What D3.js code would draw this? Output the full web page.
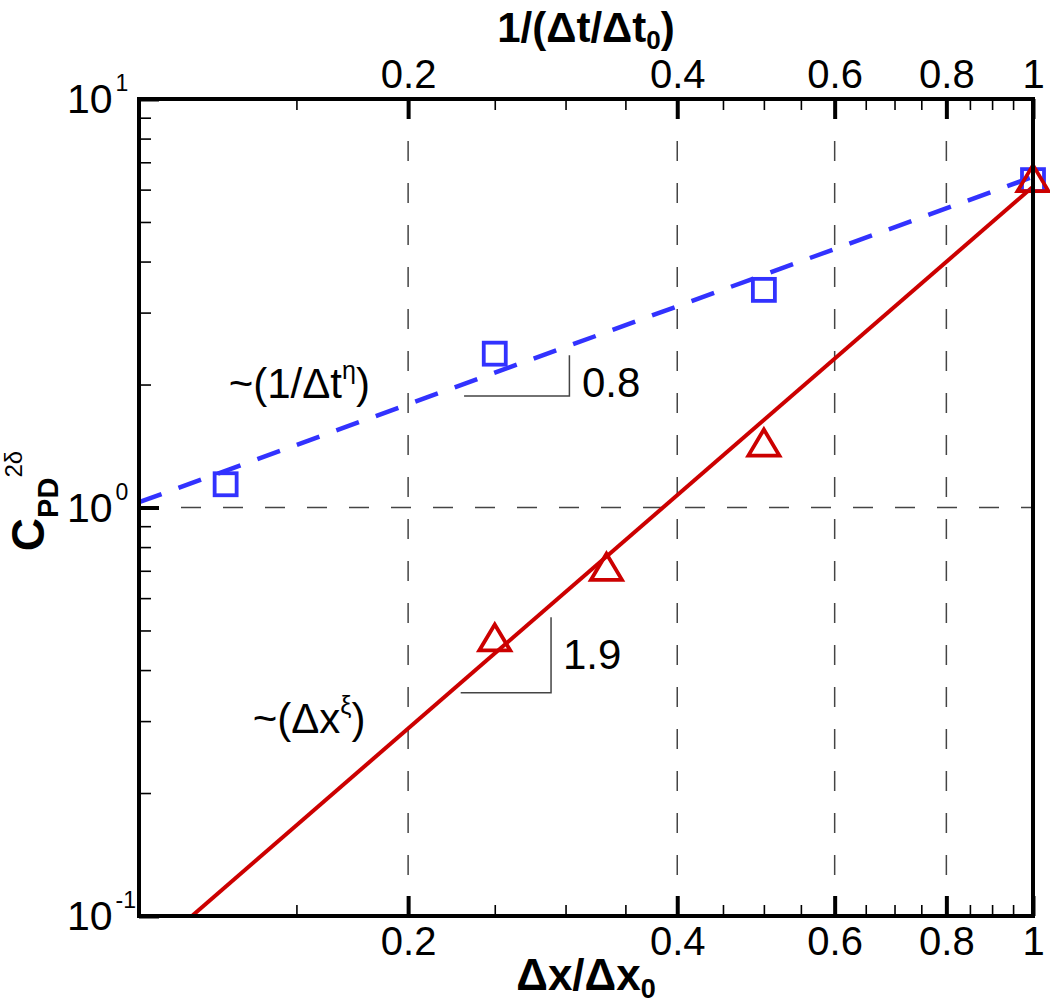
<!DOCTYPE html>
<html>
<head>
<meta charset="utf-8">
<script src="https://cdn.jsdelivr.net/npm/d3@7"></script>
<style>
  body { margin: 0; background: #fff; }
  text { font-family: "Liberation Sans", Arial, Helvetica, sans-serif; }
</style>
</head>
<body>
<div id="chart"></div>
<script>
// ---- data ----
const xMajorTicks = [0.2, 0.4, 0.6, 0.8, 1];
const xMinorTicks = [0.15, 0.25, 0.3, 0.35, 0.45, 0.5, 0.55, 0.65, 0.7, 0.75, 0.85, 0.9, 0.95];
const yMajorTicks = [0.1, 1, 10];
const yMajorExponents = ["-1", "0", "1"];
const yMinorTicks = [0.2, 0.3, 0.4, 0.5, 0.6, 0.7, 0.8, 0.9, 2, 3, 4, 5, 6, 7, 8, 9];
const gridX = [0.2, 0.4, 0.6, 0.8];
const gridY = [1];

// blue squares: time step refinement
const squareX = [0.125, 0.25, 0.5, 1];
const squareY = [1.14, 2.38, 3.41, 6.33];
// red triangles: grid refinement
const triangleX = [0.25, 1 / 3, 0.5, 1];
const triangleY = [0.47, 0.70, 1.41, 6.26];

// fitted power laws (end points)
const dtFitX = [0.1, 1];
const dtFitY = [1.03, 6.45];
const dxFitX = [0.1146, 1];
const dxFitY = [0.1, 6.1];

// slope triangles [x0, x1], [yBottom, yTop]
const dtSlopeX = [0.231, 0.303];
const dtSlopeY = [1.875, 2.36];
const dxSlopeX = [0.229, 0.289];
const dxSlopeY = [0.352, 0.539];

// annotations [x, y] in data space
const dtNote = [0.126, 1.85];
const dtSlopeLabel = [0.313, 1.86];
const dxNote = [0.134, 0.28];
const dxSlopeLabel = [0.298, 0.403];

const width = 1050;
const height = 1007;
const margin = { top: 99, right: 17, bottom: 91, left: 139 };
const blue = "#3232ff";
const red = "#cc0000";

const svg = d3.select("#chart")
    .append("svg")
    .attr("width", width)
    .attr("height", height);

const x = d3.scaleLog()
    .domain([0.1, 1])
    .range([margin.left, width - margin.right]);

const y = d3.scaleLog()
    .domain([0.1, 10])
    .range([height - margin.bottom, margin.top]);

svg.append("defs").append("clipPath")
    .attr("id", "plot-clip")
    .append("rect")
    .attr("x", margin.left)
    .attr("y", margin.top)
    .attr("width", width - margin.left - margin.right)
    .attr("height", height - margin.top - margin.bottom);

// grid lines
svg.selectAll(".grid-x")
    .data(gridX)
    .enter()
    .append("line")
    .attr("class", "grid-x")
    .attr("x1", d => x(d)).attr("x2", d => x(d))
    .attr("y1", margin.top).attr("y2", height - margin.bottom)
    .attr("stroke", "#444").attr("stroke-width", 1.5)
    .attr("stroke-dasharray", "20,22");

svg.selectAll(".grid-y")
    .data(gridY)
    .enter()
    .append("line")
    .attr("class", "grid-y")
    .attr("y1", d => y(d)).attr("y2", d => y(d))
    .attr("x1", margin.left).attr("x2", width - margin.right)
    .attr("stroke", "#444").attr("stroke-width", 1.5)
    .attr("stroke-dasharray", "20,22");

// axes
function styleAxis(g, sw) {
    g.select(".domain").remove();
    g.selectAll("line").attr("stroke", "#000").attr("stroke-width", sw);
    g.selectAll("text").attr("fill", "#000").attr("font-size", 40)
        .attr("font-family", "'Liberation Sans', Arial, sans-serif");
}

const fmt = d3.format("");

svg.append("g")
    .attr("transform", `translate(0,${height - margin.bottom})`)
    .call(d3.axisBottom(x).tickValues(xMinorTicks).tickSize(-11).tickFormat(""))
    .call(g => styleAxis(g, 1.6));
svg.append("g")
    .attr("transform", `translate(0,${height - margin.bottom})`)
    .call(d3.axisBottom(x).tickValues(xMajorTicks).tickSize(-20).tickPadding(11).tickFormat(fmt))
    .call(g => styleAxis(g, 4));

svg.append("g")
    .attr("transform", `translate(0,${margin.top})`)
    .call(d3.axisTop(x).tickValues(xMinorTicks).tickSize(-11).tickFormat(""))
    .call(g => styleAxis(g, 1.6));
svg.append("g")
    .attr("transform", `translate(0,${margin.top})`)
    .call(d3.axisTop(x).tickValues(xMajorTicks).tickSize(-20).tickPadding(11).tickFormat(fmt))
    .call(g => styleAxis(g, 4));

svg.append("g")
    .attr("transform", `translate(${margin.left},0)`)
    .call(d3.axisLeft(y).tickValues(yMinorTicks).tickSize(-12).tickFormat(""))
    .call(g => styleAxis(g, 1.6));
svg.append("g")
    .attr("transform", `translate(${margin.left},0)`)
    .call(d3.axisLeft(y).tickValues(yMajorTicks).tickSize(-20).tickFormat(""))
    .call(g => styleAxis(g, 4));

// y tick labels with exponents
const yLab = svg.selectAll(".ylab")
    .data(yMajorTicks)
    .enter()
    .append("text")
    .attr("class", "ylab")
    .attr("x", 67)
    .attr("y", d => y(d) + 14)
    .attr("font-size", 41);
yLab.append("tspan").text("10");
yLab.append("tspan")
    .attr("font-size", 23)
    .attr("dx", 3)
    .attr("dy", -22)
    .text((d, i) => yMajorExponents[i]);

// fitted lines
const plot = svg.append("g").attr("clip-path", "url(#plot-clip)");
const lineGen = d3.line().x(d => x(d[0])).y(d => y(d[1]));

plot.append("path")
    .datum(d3.zip(dtFitX, dtFitY))
    .attr("d", lineGen)
    .attr("fill", "none")
    .attr("stroke", blue)
    .attr("stroke-width", 4.5)
    .attr("stroke-dasharray", "24,18");

plot.append("path")
    .datum(d3.zip(dxFitX, dxFitY))
    .attr("d", lineGen)
    .attr("fill", "none")
    .attr("stroke", red)
    .attr("stroke-width", 4);

// slope triangles
function slopeMark(xs, ys) {
    const pts = [[xs[0], ys[0]], [xs[1], ys[0]], [xs[1], ys[1]]];
    svg.append("path")
        .datum(pts)
        .attr("d", lineGen)
        .attr("fill", "none")
        .attr("stroke", "#444")
        .attr("stroke-width", 1.5);
}
slopeMark(dtSlopeX, dtSlopeY);
slopeMark(dxSlopeX, dxSlopeY);

// markers
svg.selectAll(".sq")
    .data(d3.zip(squareX, squareY))
    .enter()
    .append("rect")
    .attr("class", "sq")
    .attr("x", d => x(d[0]) - 11)
    .attr("y", d => y(d[1]) - 11)
    .attr("width", 22)
    .attr("height", 22)
    .attr("fill", "none")
    .attr("stroke", blue)
    .attr("stroke-width", 3.8);

const triPath = "M0,-17L15.5,9L-15.5,9Z";
svg.selectAll(".tri")
    .data(d3.zip(triangleX, triangleY))
    .enter()
    .append("path")
    .attr("class", "tri")
    .attr("d", triPath)
    .attr("transform", d => `translate(${x(d[0])},${y(d[1])})`)
    .attr("fill", "none")
    .attr("stroke", red)
    .attr("stroke-width", 3.8);

// frame
svg.append("rect")
    .attr("x", margin.left)
    .attr("y", margin.top)
    .attr("width", width - margin.left - margin.right)
    .attr("height", height - margin.top - margin.bottom)
    .attr("fill", "none")
    .attr("stroke", "#000")
    .attr("stroke-width", 4);

// annotations
const n1 = svg.append("text")
    .attr("x", x(dtNote[0])).attr("y", y(dtNote[1]))
    .attr("font-size", 42);
n1.append("tspan").text("~(1/\u0394t");
n1.append("tspan").attr("font-size", 25).attr("dy", -19).text("\u03b7");
n1.append("tspan").attr("dy", 19).text(")");

svg.append("text")
    .attr("x", x(dtSlopeLabel[0])).attr("y", y(dtSlopeLabel[1]))
    .attr("font-size", 42)
    .text("0.8");

const n2 = svg.append("text")
    .attr("x", x(dxNote[0])).attr("y", y(dxNote[1]))
    .attr("font-size", 42);
n2.append("tspan").text("~(\u0394x");
n2.append("tspan").attr("font-size", 25).attr("dy", -19).text("\u03be");
n2.append("tspan").attr("dy", 19).text(")");

svg.append("text")
    .attr("x", x(dxSlopeLabel[0])).attr("y", y(dxSlopeLabel[1]))
    .attr("font-size", 42)
    .text("1.9");

// axis titles
const cx = (margin.left + width - margin.right) / 2;
const topTitle = svg.append("text")
    .attr("x", cx).attr("y", 42)
    .attr("text-anchor", "middle")
    .attr("font-size", 42)
    .attr("font-weight", "bold");
topTitle.append("tspan").text("1/(\u0394t/\u0394t");
topTitle.append("tspan").attr("font-size", 26).attr("dy", 7).text("0");
topTitle.append("tspan").attr("dy", -7).text(")");

const botTitle = svg.append("text")
    .attr("x", cx).attr("y", 990)
    .attr("text-anchor", "middle")
    .attr("font-size", 44)
    .attr("font-weight", "bold");
botTitle.append("tspan").text("\u0394x/\u0394x");
botTitle.append("tspan").attr("font-size", 27).attr("dy", 8).text("0");

const yTitle = svg.append("text")
    .attr("transform", "translate(44,501) rotate(-90)")
    .attr("text-anchor", "middle")
    .attr("font-weight", "bold")
    .attr("font-size", 46);
yTitle.append("tspan").text("C");
yTitle.append("tspan").attr("font-size", 29).attr("dy", 14).text("PD");
yTitle.append("tspan").attr("font-size", 24).attr("font-weight", "normal").attr("dy", -36).text("2\u03b4");
</script>
</body>
</html>
